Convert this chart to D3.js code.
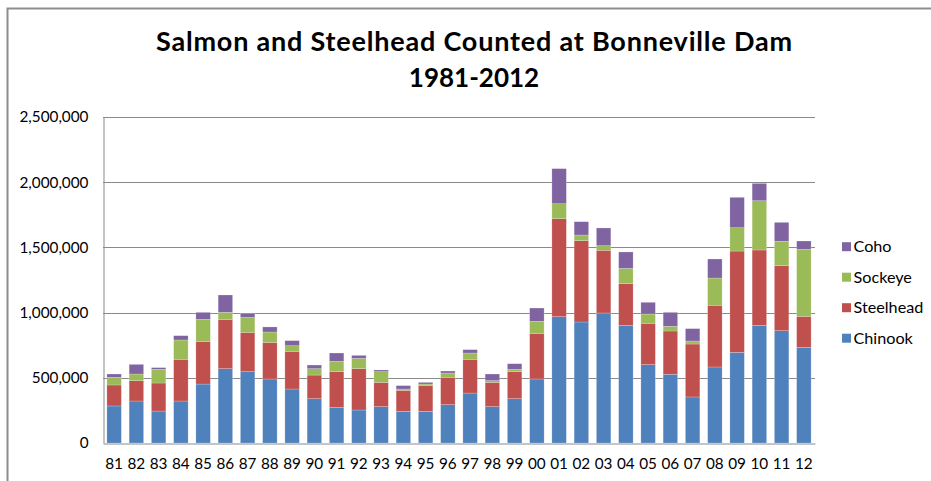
<!DOCTYPE html>
<html>
<head>
<meta charset="utf-8">
<script src="https://cdn.jsdelivr.net/npm/d3@7"></script>
<style>
  html, body { margin: 0; padding: 0; background: #fff; }
  svg { display: block; font-family: Lato, "Open Sans", sans-serif; }
</style>
</head>
<body>
<svg id="chart" width="931" height="481"></svg>
<script>
const years = ["81","82","83","84","85","86","87","88","89","90","91","92","93","94","95","96","97","98","99","00","01","02","03","04","05","06","07","08","09","10","11","12"];
const chinook   = [284000,322000,245000,322000,452000,570000,547000,491000,414000,340000,274000,253000,279000,243000,243000,294000,383000,279000,340000,491000,969000,928000,997000,902000,601000,527000,353000,583000,695000,902000,861000,734000];
const steelhead = [161000,156000,215000,320000,327000,378000,301000,280000,289000,181000,273000,317000,186000,161000,199000,210000,259000,186000,207000,350000,751000,624000,481000,320000,317000,332000,406000,473000,777000,578000,499000,237000];
const sockeye   = [59000,51000,105000,148000,169000,54000,115000,80000,43000,49000,79000,79000,82000,10000,10000,33000,48000,13000,18000,92000,115000,43000,35000,117000,71000,36000,23000,209000,179000,378000,187000,514000];
const coho      = [25000,74000,13000,33000,54000,133000,31000,39000,39000,28000,64000,23000,13000,26000,13000,15000,26000,51000,43000,102000,269000,102000,136000,126000,90000,107000,95000,146000,233000,133000,145000,64000];
const seriesNames = ["Chinook","Steelhead","Sockeye","Coho"];
const yTicks = [0,500000,1000000,1500000,2000000,2500000];
const titleLines = ["Salmon and Steelhead Counted at Bonneville Dam","1981-2012"];

const colors = {Chinook:"#4F81BD", Steelhead:"#C0504D", Sockeye:"#9BBB59", Coho:"#8064A2"};
const seriesData = {Chinook:chinook, Steelhead:steelhead, Sockeye:sockeye, Coho:coho};

const rows = years.map((y,i) => {
  const r = {year:y};
  seriesNames.forEach(s => r[s] = seriesData[s][i]);
  return r;
});

const svg = d3.select("#chart");
const L = 103, R = 815, T = 117, B = 443;

// outer frame (cropped chart border)
svg.append("path")
  .attr("d", `M7.5,481 L7.5,8.5 L931,8.5`)
  .attr("fill","none").attr("stroke","#8e8e8e").attr("stroke-width",2);

const x = d3.scaleBand().domain(years).range([L,R]).paddingInner(0.35).paddingOuter(0.175);
const y = d3.scaleLinear().domain([0,2500000]).range([B,T]);

// gridlines
svg.append("g").selectAll("line").data(yTicks.filter(t=>t>0)).join("line")
  .attr("x1",L).attr("x2",R)
  .attr("y1",d=>Math.round(y(d))+0.5).attr("y2",d=>Math.round(y(d))+0.5)
  .attr("stroke","#8a8a8a").attr("stroke-width",1);

// stacked bars
const stack = d3.stack().keys(seriesNames)(rows);
svg.append("g").selectAll("g").data(stack).join("g")
  .attr("fill", d => colors[d.key])
  .selectAll("rect").data(d=>d).join("rect")
  .attr("x", d => x(d.data.year))
  .attr("width", x.bandwidth())
  .attr("y", d => y(d[1]))
  .attr("height", d => y(d[0]) - y(d[1]))
  .attr("stroke", "rgba(255,255,255,0.35)").attr("stroke-width",0.6);

// y axis
const yAxis = d3.axisLeft(y).tickValues(yTicks).tickSize(0).tickPadding(15)
  .tickFormat(d3.format(","));
const gy = svg.append("g").attr("transform",`translate(${L+0.5},0)`).call(yAxis);
gy.select(".domain").attr("stroke","#8a8a8a");
gy.selectAll("text").attr("font-size",15.3).attr("fill","#000").attr("font-family","Lato, sans-serif");

// x axis
const xAxis = d3.axisBottom(x).tickSize(0).tickPadding(15);
const gx = svg.append("g").attr("transform",`translate(0,${B+0.5})`).call(xAxis);
gx.select(".domain").attr("stroke","#8a8a8a");
gx.selectAll("text").attr("font-size",15.3).attr("fill","#000").attr("font-family","Lato, sans-serif");

// title
svg.append("g").selectAll("text").data(titleLines).join("text")
  .attr("x",474).attr("y",(d,i)=> i===0 ? 51 : 87)
  .attr("text-anchor","middle")
  .attr("font-size",(d,i)=> i===0 ? 27 : 26).attr("font-weight","bold").attr("fill","#000")
  .each(function(d,i){ if(i===0){ d3.select(this).attr("textLength",636).attr("lengthAdjust","spacing"); } })
  .text(d=>d);

// legend (reverse order)
const legendItems = seriesNames.slice().reverse();
const lg = svg.append("g").selectAll("g").data(legendItems).join("g")
  .attr("transform",(d,i)=>`translate(842,${246.7 + i*30.5})`);
lg.append("rect").attr("x",0).attr("y",-4.5).attr("width",9).attr("height",9)
  .attr("fill",d=>colors[d]);
lg.append("text").attr("x",11.5).attr("y",0).attr("dy","0.35em")
  .attr("font-size",16.2).attr("fill","#000").text(d=>d);
</script>
</body>
</html>
